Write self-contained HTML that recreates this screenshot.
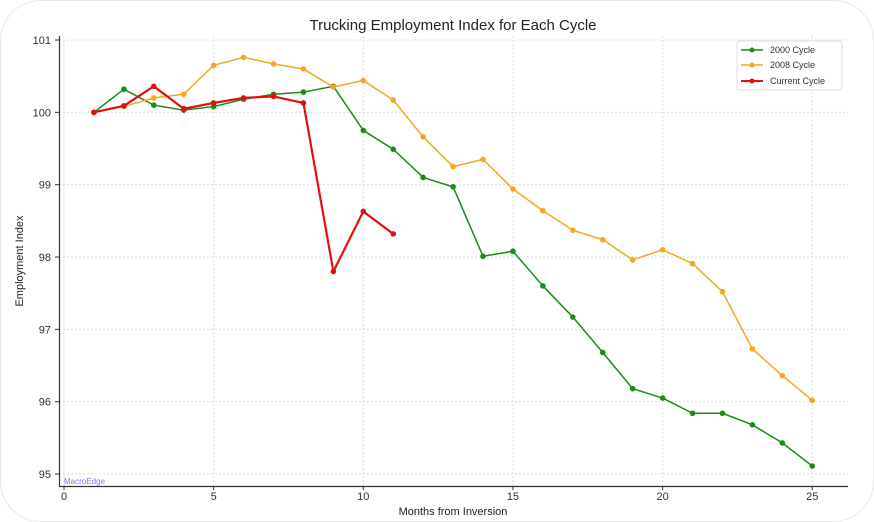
<!DOCTYPE html>
<html><head><meta charset="utf-8"><style>
html,body{margin:0;padding:0;background:#fff;}
svg{display:block;font-family:"Liberation Sans",sans-serif;}
</style></head><body>
<svg id="c" width="874" height="522" viewBox="0 0 874 522" xmlns="http://www.w3.org/2000/svg">
<rect x="0.5" y="0.5" width="873" height="521" rx="40" fill="#fff" stroke="#e4e8ec"/>
<text x="453" y="30" text-anchor="middle" font-size="15" fill="#222">Trucking Employment Index for Each Cycle</text>
<g id="grid" stroke="#ddd" stroke-dasharray="2,2" stroke-width="1"></g>
<g id="ticks" font-size="11" fill="#333"></g>
<line x1="59.5" y1="36" x2="59.5" y2="486.5" stroke="#333" stroke-width="1.2"/>
<line x1="59" y1="486.5" x2="848" y2="486.5" stroke="#333" stroke-width="1.2"/>
<text x="453" y="515" text-anchor="middle" font-size="11" fill="#222">Months from Inversion</text>
<text transform="translate(23,261) rotate(-90)" text-anchor="middle" font-size="11" fill="#222">Employment Index</text>
<text x="64" y="484" font-size="8" fill="#77f">MacroEdge</text>
<g id="series"></g>
<g font-size="9" fill="#333">
<rect x="737" y="41" width="105" height="49" fill="#fff" stroke="#ddd" rx="2"/>
<line x1="741" y1="50" x2="763" y2="50" stroke="#1a8a1a" stroke-width="1.5"/><circle cx="752" cy="50" r="2.5" fill="#1a8a1a"/>
<text x="770" y="53">2000 Cycle</text>
<line x1="741" y1="65" x2="763" y2="65" stroke="#f5a623" stroke-width="1.5"/><circle cx="752" cy="65" r="2.5" fill="#f5a623"/>
<text x="770" y="68">2008 Cycle</text>
<line x1="741" y1="81" x2="763" y2="81" stroke="#e01010" stroke-width="2"/><circle cx="752" cy="81" r="2.5" fill="#e01010"/>
<text x="770" y="84">Current Cycle</text>
</g>
</svg>
<script>
var NS="http://www.w3.org/2000/svg";
function X(x){return 64+x*29.93;}
function Y(y){return 474-(y-95)*72.33;}
function el(p,t,a,txt){var e=document.createElementNS(NS,t);for(var k in a)e.setAttribute(k,a[k]);if(txt!=null)e.textContent=txt;document.getElementById(p).appendChild(e);return e;}
for(var i=0;i<=25;i+=5){el("grid","line",{x1:X(i),x2:X(i),y1:36,y2:486});el("ticks","line",{x1:X(i),x2:X(i),y1:486,y2:490,stroke:"#333"});el("ticks","text",{x:X(i),y:500,"text-anchor":"middle"},i);}
for(var v=95;v<=101;v++){el("grid","line",{x1:59,x2:848,y1:Y(v),y2:Y(v)});el("ticks","line",{x1:55,x2:59,y1:Y(v),y2:Y(v),stroke:"#333"});el("ticks","text",{x:51,y:Y(v)+4,"text-anchor":"end"},v);}
var d2000=[100.0,100.32,100.1,100.03,100.08,100.18,100.25,100.28,100.36,99.75,99.49,99.1,98.97,98.01,98.08,97.6,97.17,96.68,96.18,96.05,95.84,95.84,95.68,95.43,95.11];
var d2008=[100.0,100.08,100.2,100.25,100.65,100.76,100.67,100.6,100.35,100.44,100.17,99.66,99.25,99.35,98.94,98.64,98.37,98.24,97.96,98.1,97.91,97.52,96.73,96.36,96.02];
var dcur=[100.0,100.09,100.36,100.05,100.13,100.2,100.22,100.13,97.8,98.63,98.32];
function series(d,c,w){var pts=d.map(function(v,i){return X(i+1)+","+Y(v);}).join(" ");
el("series","polyline",{points:pts,fill:"none",stroke:c,"stroke-width":w,"stroke-linejoin":"round"});
d.forEach(function(v,i){el("series","circle",{cx:X(i+1),cy:Y(v),r:2.8,fill:c});});}
series(d2000,"#1a8a1a",1.5);series(d2008,"#f5a623",1.5);series(dcur,"#e01010",2.2);
</script>
</body></html>
